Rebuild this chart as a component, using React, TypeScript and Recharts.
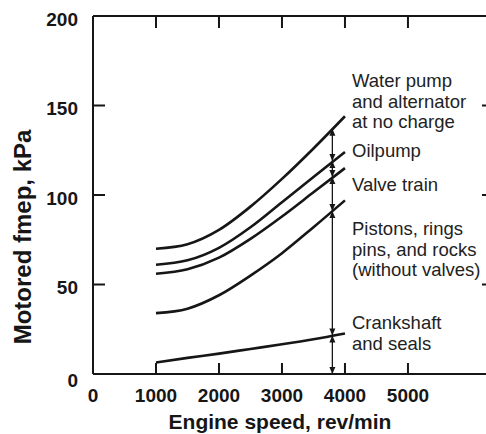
import React from "react";
import {
  LineChart,
  Line,
  XAxis,
  YAxis,
  ReferenceLine,
  Customized,
} from "recharts";

// engine speed, rev/min
const rpm = [1000, 1500, 2000, 2500, 3000, 3500, 4000];
// motored fmep, kPa (cumulative curves)
const waterPump = [70, 72.5, 80.5, 93.5, 109, 126, 144];
const oilPump = [61, 63.5, 70.5, 82, 96, 110, 124];
const valveTrain = [56, 58.5, 65, 75.5, 88, 101.5, 115];
const pistons = [34, 36.5, 44, 55, 67.5, 82, 97];
const crankshaft = [6.4, 9, 11.4, 14, 16.6, 19.4, 22.6];

const xTicks = [0, 1000, 2000, 3000, 4000, 5000];
const xMarkTicks = [1000, 2000, 3000, 4000, 5000];
const yTicks = [0, 50, 100, 150, 200];
const yMarkTicks = [50, 100, 150];

// arrow column at 3800 rev/min, levels where it meets each curve
const arrowRpm = 3800;
const arrowLevels = [0, 21.5, 91, 110, 119, 137];

const labels = [
  { lines: ["Water pump", "and alternator", "at no charge"], y: 87 },
  { lines: ["Oilpump"], y: 157 },
  { lines: ["Valve train"], y: 191 },
  { lines: ["Pistons, rings", "pins, and rocks", "(without valves)"], y: 235 },
  { lines: ["Crankshaft", "and seals"], y: 329 },
];

const data = rpm.map((r, i) => ({
  rpm: r,
  water: waterPump[i],
  oil: oilPump[i],
  valve: valveTrain[i],
  pistons: pistons[i],
  crank: crankshaft[i],
}));

const INK = "#161616";
const FONT = "'Liberation Sans', Arial, sans-serif";
const axisStroke = { stroke: INK, strokeWidth: 2 };

const BottomLabel = ({ x, y, payload }: any) => (
  <text x={x} y={y + 28} textAnchor="middle" fontFamily={FONT} fontWeight="bold" fontSize={19} fill={INK}>
    {payload.value}
  </text>
);

const LeftLabel = ({ x, y, payload }: any) => {
  const v = payload.value;
  const dy = v === 0 ? 13 : 9.5;
  return (
    <text x={x - 15} y={y + dy} textAnchor="end" fontFamily={FONT} fontWeight="bold" fontSize={19} fill={INK}>
      {v}
    </text>
  );
};

const NoLabel = () => <g />;

// inward tick marks (filled bars) at both ends of a vertical reference line
const VTicks = (props: any) => {
  const { x1, y1, y2 } = props;
  const top = Math.min(y1, y2);
  const bot = Math.max(y1, y2);
  return (
    <g>
      <rect x={x1 - 1} y={bot - 11} width={2} height={11} fill={INK} stroke="none" />
      <rect x={x1 - 1} y={top} width={2} height={12} fill={INK} stroke="none" />
    </g>
  );
};

// inward tick marks (filled bars) at both ends of a horizontal reference line
const HTicks = (props: any) => {
  const { x1, x2, y1 } = props;
  const left = Math.min(x1, x2);
  const right = Math.max(x1, x2);
  return (
    <g>
      <rect x={left} y={y1 - 1} width={12} height={2} fill={INK} stroke="none" />
      <rect x={right - 11} y={y1 - 1} width={11} height={2} fill={INK} stroke="none" />
    </g>
  );
};

// double headed arrow between two levels
const DoubleArrow = (props: any) => {
  const { x1, y1, x2, y2 } = props;
  const head = (tx: number, ty: number, dir: number) =>
    `M${tx},${ty} L${tx - 3},${ty + dir * 7} L${tx + 3},${ty + dir * 7} Z`;
  const top = Math.min(y1, y2);
  const bot = Math.max(y1, y2);
  return (
    <g>
      <line x1={x1} x2={x2} y1={top} y2={bot} stroke={INK} strokeWidth={1.3} />
      <path d={head(x1, top, 1)} fill={INK} />
      <path d={head(x1, bot, -1)} fill={INK} />
    </g>
  );
};

const Annotations = () => (
  <g fontFamily={FONT} fill="#222">
    {labels.map((l) =>
      l.lines.map((t, i) => (
        <text key={t} x={352} y={l.y + i * 20.5} fontSize={18.5}>
          {t}
        </text>
      ))
    )}
    <text x={280} y={429} textAnchor="middle" fontWeight="bold" fontSize={21} fill={INK}>
      Engine speed, rev/min
    </text>
    <text
      x={31}
      y={237}
      textAnchor="middle"
      fontWeight="bold"
      fontSize={24}
      fill={INK}
      transform="rotate(-90, 31, 237)"
    >
      Motored fmep, kPa
    </text>
  </g>
);

export default function App() {
  const series = ["water", "oil", "valve", "pistons", "crank"];
  const xDomain = [0, 6350];
  return (
    <div style={{ position: "absolute", left: 0, top: 0, width: 486, height: 434, overflow: "hidden", background: "#fff" }}>
      <LineChart width={500} height={434} data={data} margin={{ top: 15, right: 6, bottom: 0, left: 0 }}>
        <XAxis
          dataKey="rpm"
          type="number"
          domain={xDomain}
          ticks={xTicks}
          height={60}
          tickSize={0}
          tickMargin={0}
          tickLine={false}
          tick={<BottomLabel />}
          axisLine={axisStroke}
          allowDataOverflow
        />
        <XAxis
          xAxisId="top"
          orientation="top"
          dataKey="rpm"
          type="number"
          domain={xDomain}
          ticks={xMarkTicks}
          height={1}
          tickSize={0}
          tickLine={false}
          tick={<NoLabel />}
          axisLine={axisStroke}
          allowDataOverflow
        />
        <YAxis
          type="number"
          domain={[0, 200]}
          ticks={yTicks}
          width={93}
          tickSize={0}
          tickMargin={0}
          tickLine={false}
          tick={<LeftLabel />}
          axisLine={axisStroke}
        />
        <YAxis
          yAxisId="right"
          orientation="right"
          type="number"
          domain={[0, 200]}
          ticks={yMarkTicks}
          width={1}
          tickSize={0}
          tickLine={false}
          tick={<NoLabel />}
          axisLine={axisStroke}
        />
        {xMarkTicks.map((t) => (
          <ReferenceLine key={`xt${t}`} x={t} shape={<VTicks />} ifOverflow="visible" />
        ))}
        {yMarkTicks.map((t) => (
          <ReferenceLine key={`yt${t}`} y={t} shape={<HTicks />} ifOverflow="visible" />
        ))}
        {series.map((k) => (
          <Line
            key={k}
            dataKey={k}
            type="monotone"
            stroke={INK}
            strokeWidth={2.6}
            dot={false}
            activeDot={false}
            isAnimationActive={false}
          />
        ))}
        {arrowLevels.slice(1).map((v, i) => (
          <ReferenceLine
            key={v}
            segment={[
              { x: arrowRpm, y: arrowLevels[i] },
              { x: arrowRpm, y: v },
            ]}
            shape={<DoubleArrow />}
            ifOverflow="visible"
          />
        ))}
        <Customized component={Annotations} />
      </LineChart>
    </div>
  );
}
